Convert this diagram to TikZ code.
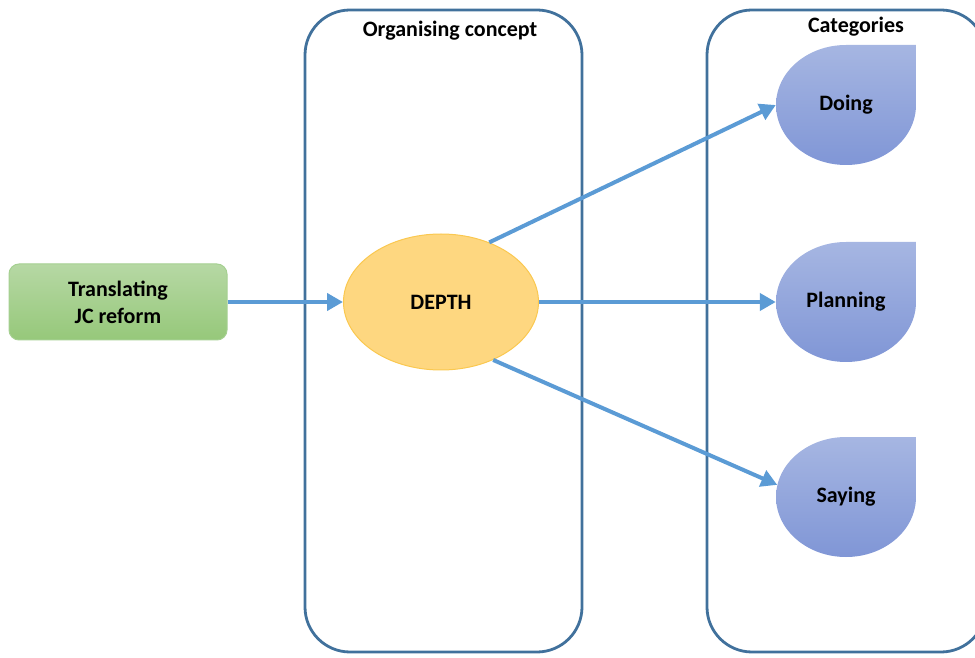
\documentclass[tikz,border=0pt]{standalone}
\usepackage{fontspec}
\setmainfont{Carlito}
\usepackage{xcolor}
\usetikzlibrary{shapes.geometric, arrows.meta}

\definecolor{frameblue}{RGB}{65,113,156}
\definecolor{arrowblue}{RGB}{91,155,213}
\definecolor{greentop}{RGB}{182,216,164}
\definecolor{greenbot}{RGB}{150,200,122}
\definecolor{greenline}{RGB}{165,208,145}
\definecolor{depthfill}{RGB}{254,215,128}
\definecolor{depthline}{RGB}{250,200,80}
\definecolor{cattop}{RGB}{166,182,226}
\definecolor{catbot}{RGB}{128,150,214}

\begin{document}
\begin{tikzpicture}[x=1pt, y=1pt,
			every node/.style={font=\fontsize{22}{27}\selectfont\bfseries},
			frame/.style={draw=frameblue, line width=2.8pt, rounded corners=45pt},
			source/.style={rectangle, rounded corners=10pt, draw=greenline, line width=1pt, top color=greentop, bottom color=greenbot, minimum width=218pt, minimum height=76pt, align=center},
			concept/.style={ellipse, draw=depthline, line width=1pt, fill=depthfill, minimum width=195pt, minimum height=136pt},
			category/.style={ellipse, minimum width=140pt, minimum height=120pt, inner sep=0pt},
			leaf/.style={top color=cattop, bottom color=catbot},
			link/.style={draw=arrowblue, line width=4pt, -{Triangle[length=16pt, width=17pt]}}]

			\useasboundingbox (0,0) rectangle (975,657);
			\clip (0,0) rectangle (975,657);

			\draw[frame] (305,5) rectangle (582,647);
			\draw[frame] (707,5) rectangle (986,647);
			\node (orgtitle) at (450,626) {Organising concept};
			\node (cattitle) at (856,630) {Categories};

			\node[source] (reform) at (118,355) {Translating\\JC reform};
			\node[concept] (depth) at (441,355) {DEPTH};

			\foreach \nm/\yy/\txt in {doing/552/Doing, planning/355/Planning, saying/160/Saying} {
				\shade[leaf] (846,\yy+60) -- (916,\yy+60) -- (916,\yy) arc[start angle=0, end angle=-270, x radius=70, y radius=60] -- cycle;
				\node[category] (\nm) at (846,\yy) {\txt};
			}

			\draw[link] (reform.east) -- (depth.west);
			\draw[link] (depth.51) -- (doing.west);
			\draw[link] (depth.east) -- (planning.west);
			\draw[link] (depth.-48) -- (saying.170);
		\end{tikzpicture}
\end{document}
